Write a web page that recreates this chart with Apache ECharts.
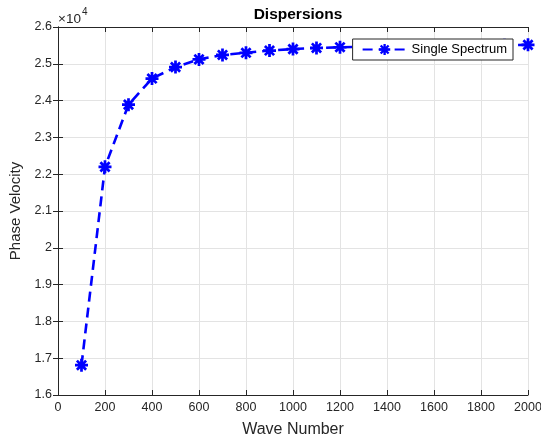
<!DOCTYPE html>
<html>
<head>
<meta charset="utf-8">
<script src="https://cdn.jsdelivr.net/npm/echarts@6/dist/echarts.min.js"></script>
<style>
  html, body { margin: 0; padding: 0; background: #fff; }
  #chart { width: 541px; height: 440px; }
</style>
</head>
<body>
<div id="chart"></div>
<script>
// data
var waveNumbers = [100, 200, 300, 400, 500, 600, 700, 800, 900, 1000,
                   1100, 1200, 1300, 1400, 1500, 1600, 1700, 1800, 1900, 2000];
var phaseVelocity = [16810, 22200, 23890, 24600, 24910, 25120, 25240, 25300, 25360, 25400,
                     25430, 25450, 25465, 25475, 25485, 25490, 25495, 25500, 25505, 25515];
var xTicks = [0, 2000, 200];      // min, max, step
var yTicks = [16000, 26000, 1000];

// asterisk marker built from 4 bars (0,45,90,135 deg)
function starPath() {
    var L = 10, w = 2.1, d = '';
    [0, 45, 90, 135].forEach(function (a) {
        var r = a * Math.PI / 180, c = Math.cos(r), s = Math.sin(r);
        var pts = [[-L, -w], [L, -w], [L, w], [-L, w]].map(function (p) {
            return [(p[0] * c - p[1] * s).toFixed(2), (p[0] * s + p[1] * c).toFixed(2)];
        });
        d += 'M' + pts[0].join(' ') + 'L' + pts[1].join(' ') + 'L' + pts[2].join(' ') + 'L' + pts[3].join(' ') + 'Z';
    });
    return 'path://' + d;
}

var seriesData = [];
for (var i = 0; i < waveNumbers.length; i++) {
    seriesData.push([waveNumbers[i], phaseVelocity[i]]);
}

var axisColor = '#262626';
var font = 'Liberation Sans, Arial, sans-serif';

var option = {
    animation: false,
    backgroundColor: '#fff',
    title: {
        text: 'Dispersions',
        left: 293, top: 2, textAlign: 'center',
        textStyle: { fontFamily: font, fontSize: 15.5, fontWeight: 'bold', color: '#000' }
    },
    grid: { left: 58, right: 13, top: 27, bottom: 45, show: false, outerBoundsMode: 'none' },
    legend: {
        right: 28, top: 39,
        orient: 'vertical',
        backgroundColor: '#fff',
        borderColor: axisColor, borderWidth: 1,
        padding: [4, 6, 4, 9],
        itemWidth: 44, itemHeight: 14, itemGap: 4,
        textStyle: { fontFamily: font, fontSize: 13, color: '#000' },
        data: ['Single Spectrum']
    },
    xAxis: [{
        type: 'value', min: xTicks[0], max: xTicks[1], interval: xTicks[2],
        name: 'Wave Number', nameLocation: 'middle', nameGap: 27,
        nameTextStyle: { fontFamily: font, fontSize: 16, color: axisColor },
        axisLine: { lineStyle: { color: axisColor, width: 1 } },
        axisTick: { inside: true, length: 5, lineStyle: { color: axisColor } },
        axisLabel: {
            fontFamily: font, fontSize: 12.5, color: axisColor, margin: 6,
            formatter: function (v) { return String(v); }
        },
        splitLine: { show: true, lineStyle: { color: '#e3e3e3', width: 1 } }
    }, {
        type: 'value', position: 'top', min: xTicks[0], max: xTicks[1], interval: xTicks[2],
        axisLine: { lineStyle: { color: axisColor, width: 1 } },
        axisTick: { inside: true, length: 5, lineStyle: { color: axisColor } },
        axisLabel: { show: false },
        splitLine: { show: false }
    }],
    yAxis: [{
        type: 'value', min: yTicks[0], max: yTicks[1], interval: yTicks[2],
        name: 'Phase Velocity', nameLocation: 'middle', nameGap: 24, nameRotate: 90,
        nameTextStyle: { fontFamily: font, fontSize: 15, color: axisColor },
        axisLine: { show: true, lineStyle: { color: axisColor, width: 1 } },
        axisTick: { show: true, inside: true, length: 5, lineStyle: { color: axisColor } },
        axisLabel: {
            fontFamily: font, fontSize: 12.5, color: axisColor, margin: 6,
            formatter: function (v) { return String(Math.round(v / 1000) / 10); }
        },
        splitLine: { show: true, lineStyle: { color: '#e3e3e3', width: 1 } }
    }, {
        type: 'value', position: 'right', min: yTicks[0], max: yTicks[1], interval: yTicks[2],
        axisLine: { show: true, lineStyle: { color: axisColor, width: 1 } },
        axisTick: { show: true, inside: true, length: 5, lineStyle: { color: axisColor } },
        axisLabel: { show: false },
        splitLine: { show: false }
    }],
    graphic: [{
        type: 'text', left: 58, top: 7,
        style: {
            text: '{a|\u00d710}{b|4}',
            rich: {
                a: { fontFamily: font, fontSize: 13.5, fill: axisColor, padding: [5, 0, 0, 0] },
                b: { fontFamily: font, fontSize: 10, fill: axisColor, verticalAlign: 'top', padding: [0, 0, 9, 1] }
            }
        }
    }],
    series: [{
        name: 'Single Spectrum',
        type: 'line',
        xAxisIndex: 0, yAxisIndex: 0,
        data: seriesData,
        clip: false,
        symbol: starPath(),
        symbolSize: 13,
        itemStyle: { color: '#0000ff' },
        lineStyle: { color: '#0000ff', width: 2.6, type: [10, 6] }
    }]
};

var myChart = echarts.init(document.getElementById('chart'));
myChart.setOption(option);
</script>
</body>
</html>
